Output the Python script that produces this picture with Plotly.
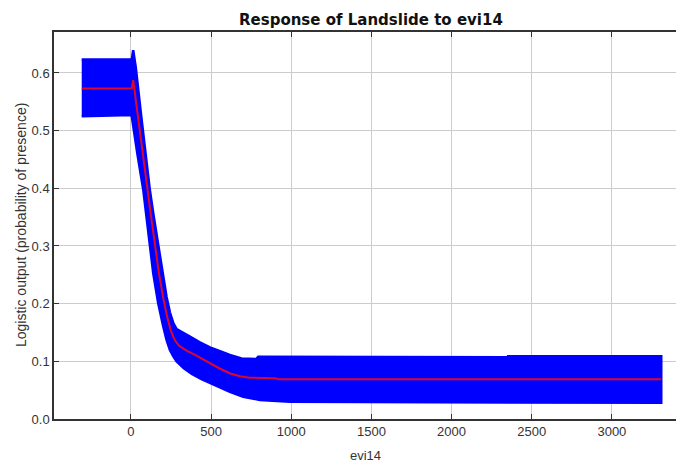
import plotly.graph_objects as go

# Mean response of Landslide to evi14
mean_x = [-307, 5, 14, 40, 70, 100, 125, 150, 175, 200, 225, 250, 275, 300, 350, 400, 450,
          500, 550, 620, 680, 740, 900, 920, 3308]
mean_y = [0.573, 0.573, 0.5875, 0.535, 0.468, 0.405, 0.352, 0.298, 0.252, 0.212, 0.178, 0.152,
          0.136, 0.127, 0.118, 0.111, 0.103, 0.096, 0.088, 0.079, 0.074, 0.0716, 0.0705, 0.069,
          0.069]

# Mean + one standard deviation
upper_x = [-307, 5, 14, 30, 60, 90, 118, 140, 160, 180, 201, 222, 243, 265, 285, 320, 368, 430,
           493, 560, 617, 690, 780, 794, 2348, 2352, 3308]
upper_y = [0.6234, 0.6234, 0.6395, 0.61, 0.535, 0.46, 0.397, 0.355, 0.318, 0.282, 0.248, 0.212,
           0.185, 0.166, 0.156, 0.150, 0.143, 0.133, 0.124, 0.117, 0.111, 0.105, 0.104, 0.108,
           0.107, 0.109, 0.109]

# Mean - one standard deviation
lower_x = [-307, 4, 40, 77, 108, 139, 170, 201, 222, 243, 265, 285, 330, 380, 440, 493, 560,
           617, 700, 804, 991, 1220, 3308]
lower_y = [0.525, 0.527, 0.46, 0.397, 0.33, 0.2525, 0.2005, 0.161, 0.137, 0.1196, 0.108, 0.100,
           0.088, 0.078, 0.069, 0.062, 0.054, 0.047, 0.0387, 0.033, 0.030, 0.029, 0.028]

x_ticks = [0, 500, 1000, 1500, 2000, 2500, 3000]
y_ticks = [0.0, 0.1, 0.2, 0.3, 0.4, 0.5, 0.6]

BLUE = "#0000ff"
RED = "#e0062a"
GRID = "#cccccc"
AXIS = "#333333"
TICK_FONT = dict(family="Liberation Sans, Arial, sans-serif", size=13, color="#333333")

fig = go.Figure()

# Band between mean - sd and mean + sd
band_x = upper_x + lower_x[::-1]
band_y = upper_y + lower_y[::-1]
fig.add_trace(go.Scatter(
    x=band_x, y=band_y, mode="lines", fill="toself",
    fillcolor=BLUE, line=dict(color=BLUE, width=2.5),
    hoverinfo="skip", showlegend=False,
))

fig.add_trace(go.Scatter(
    x=mean_x, y=mean_y, mode="lines",
    line=dict(color=RED, width=2),
    showlegend=False,
))

fig.update_layout(
    width=676, height=465,
    margin=dict(l=54, r=0, t=32, b=46),
    paper_bgcolor="white", plot_bgcolor="white",
    showlegend=False,
    xaxis=dict(
        range=[-480, 3400], tickvals=x_ticks, ticktext=[str(v) for v in x_ticks],
        showgrid=True, gridcolor=GRID, gridwidth=1,
        showline=True, linecolor=AXIS, linewidth=1.5, mirror="ticks",
        ticks="inside", ticklen=5, tickcolor=AXIS, tickfont=TICK_FONT,
        zeroline=False,
    ),
    yaxis=dict(
        range=[0, 0.671], tickvals=y_ticks, ticktext=[f"{v:.1f}" for v in y_ticks],
        showgrid=True, gridcolor=GRID, gridwidth=1,
        showline=True, linecolor=AXIS, linewidth=1.5,
        ticks="inside", ticklen=5, tickcolor=AXIS, tickfont=TICK_FONT,
        zeroline=False,
    ),
    annotations=[
        dict(text="<b>Response of Landslide to evi14</b>", xref="paper", yref="paper",
             x=(370.5 - 54) / 622, y=1 + (32 - 20) / 387, xanchor="center", yanchor="middle",
             showarrow=False,
             font=dict(family="DejaVu Sans, sans-serif", size=15, color="#111111")),
        dict(text="evi14", xref="paper", yref="paper",
             x=0.5, y=-(455 - 419) / 387, xanchor="center", yanchor="middle",
             showarrow=False,
             font=dict(family="Liberation Sans, Arial, sans-serif", size=13, color="#333333")),
        dict(text="Logistic output (probability of presence)", xref="paper", yref="paper",
             x=(21 - 54) / 622, y=(419 - 225) / 387, xanchor="center", yanchor="middle",
             textangle=-90, showarrow=False,
             font=dict(family="Liberation Sans, Arial, sans-serif", size=14, color="#333333")),
    ],
)

fig.write_html("out.html")
